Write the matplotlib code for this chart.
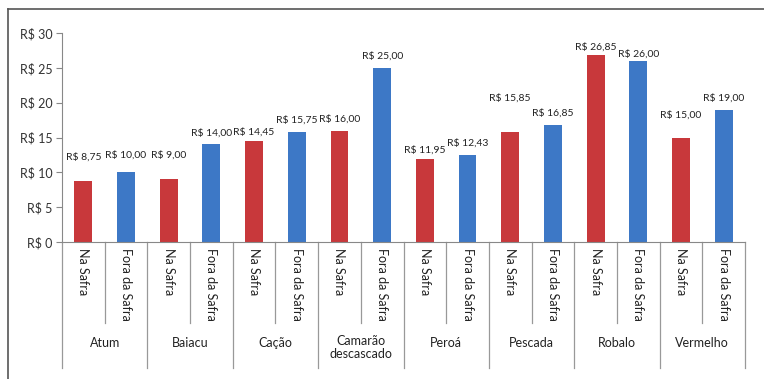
import matplotlib.pyplot as plt
import numpy as np
from matplotlib.lines import Line2D
from matplotlib.transforms import blended_transform_factory

plt.rcParams["font.family"] = ["Lato", "DejaVu Sans"]

SPECIES = ["Atum", "Baiacu", "Cação", "Camarão\ndescascado", "Peroá",
           "Pescada", "Robalo", "Vermelho"]
SEASONS = ["Na Safra", "Fora da Safra"]
NA_SAFRA = [8.75, 9.00, 14.45, 16.00, 11.95, 15.85, 26.85, 15.00]
FORA_SAFRA = [10.00, 14.00, 15.75, 25.00, 12.43, 16.85, 26.00, 19.00]
Y_TICKS = [0, 5, 10, 15, 20, 25, 30]

RED = "#C8383B"
BLUE = "#3D78C6"
# extra lift (pixels) for labels that were nudged in the original
LABEL_LIFT = {0: 12, 1: 5, 2: 12, 4: -3, 8: -3, 10: 22, 12: -4, 13: -5, 14: 11}


def brl(v: float, decimals: int = 2) -> str:
    return "R$ " + f"{v:.{decimals}f}".replace(".", ",")


def main() -> None:
    fig = plt.figure(figsize=(7.64, 3.79), dpi=100)
    ax = fig.add_axes([62 / 764, 1 - 242 / 379, 683 / 764, 209 / 379])

    values = []
    colors = []
    for na, fora in zip(NA_SAFRA, FORA_SAFRA):
        values += [na, fora]
        colors += [RED, BLUE]
    x = np.arange(len(values))
    ax.bar(x, values, width=0.42, color=colors, zorder=2)

    for i, v in enumerate(values):
        lift = 5.2 + LABEL_LIFT.get(i, 0) * 0.72
        ax.annotate(brl(v), (x[i], v), xytext=(0, lift), textcoords="offset points",
                    ha="center", va="bottom", fontsize=7.5, color="#222222")

    ax.set_xlim(-0.5, len(values) - 0.5)
    ax.set_ylim(0, 30)
    ax.set_yticks(Y_TICKS)
    ax.set_yticklabels([brl(t, 0) for t in Y_TICKS], fontsize=9, color="#333333")
    ax.tick_params(axis="y", length=4, color="#888888", pad=3)
    ax.set_xticks([])
    for side in ["top", "right"]:
        ax.spines[side].set_visible(False)
    ax.spines["left"].set_color("#888888")
    ax.spines["bottom"].set_color("#888888")

    # hierarchical category axis below the plot
    trans = blended_transform_factory(ax.transData, ax.transAxes)
    short_y = -(323 - 242) / 209
    long_y = -(368 - 242) / 209
    for k in range(len(values) + 1):
        xs = k - 0.5
        y_end = long_y if k % 2 == 0 else short_y
        ax.add_line(Line2D([xs, xs], [0, y_end], transform=trans, color="#999999",
                           lw=0.9, clip_on=False))
    for i in x:
        ax.text(i, -0.03, SEASONS[i % 2], transform=trans, rotation=-90,
                ha="center", va="top", fontsize=9, color="#222222")
    for j, name in enumerate(SPECIES):
        two_lines = "\n" in name
        y_pos = -(335 - 242) / 209 if two_lines else -(343 - 242) / 209
        ax.text(2 * j + 0.5, y_pos, name, transform=trans,
                ha="center", va="top" if two_lines else "center",
                fontsize=9, color="#222222", linespacing=1.05)

    # outer frame (top and left edges only, as in the cropped original)
    fig.add_artist(Line2D([8 / 764, 1], [1 - 9 / 379] * 2, color="#555555", lw=1.2))
    fig.add_artist(Line2D([8 / 764] * 2, [0, 1 - 9 / 379], color="#555555", lw=1.2))

    fig.savefig("out.png", dpi=100)
    plt.close(fig)


if __name__ == "__main__":
    main()
